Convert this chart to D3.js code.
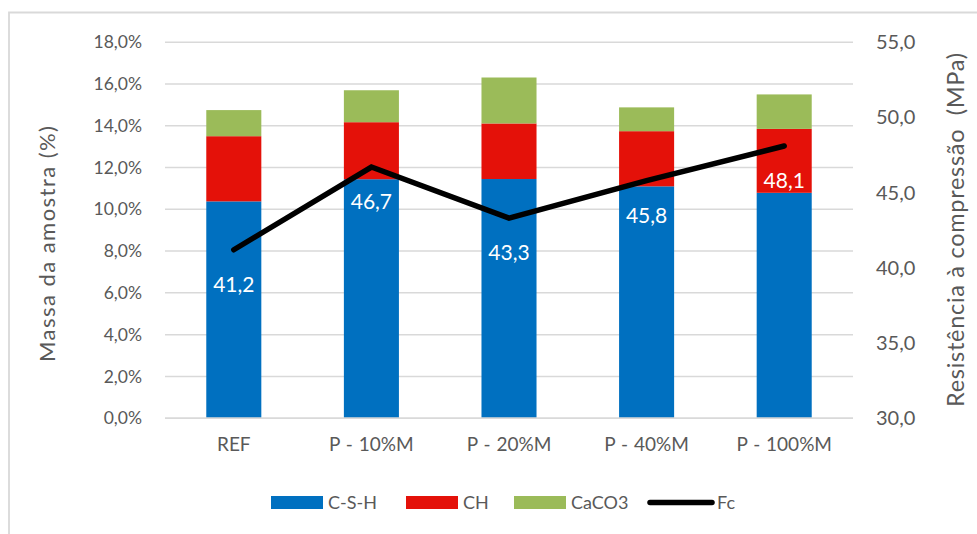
<!DOCTYPE html>
<html>
<head>
<meta charset="utf-8">
<script src="https://cdn.jsdelivr.net/npm/d3@7"></script>
<style>
  html, body { margin: 0; padding: 0; background: #fff; }
  svg text { font-family: Lato, "Open Sans", sans-serif; }
</style>
</head>
<body>
<svg id="chart" width="977" height="534"></svg>
<script>
// Samples and measured phases (% of sample mass) plus compressive strength (MPa)
const categories = ["REF", "P - 10%M", "P - 20%M", "P - 40%M", "P - 100%M"];
const csh   = [10.38, 11.44, 11.45, 11.10, 10.79];
const ch    = [3.12, 2.73, 2.66, 2.64, 3.06];
const caco3 = [1.25, 1.53, 2.20, 1.14, 1.65];
const fc    = [41.2, 46.7, 43.3, 45.8, 48.1];
const seriesNames = ["C-S-H", "CH", "CaCO3"];
const leftTicks = [0, 2, 4, 6, 8, 10, 12, 14, 16, 18];
const rightTicks = [30, 35, 40, 45, 50, 55];

const colors = { "C-S-H": "#0070C0", "CH": "#E41109", "CaCO3": "#9BBB59" };
const textColor = "#595959";
const gridColor = "#D9D9D9";

const svg = d3.select("#chart");
const margin = { left: 165, right: 124 };
const W = 977;
const plotW = W - margin.left - margin.right;
const y0 = 418.2, yTop = 42.2;

const x = d3.scaleBand().domain(categories).range([margin.left, margin.left + plotW]).paddingInner(0.6).paddingOuter(0.3);
const yL = d3.scaleLinear().domain([0, 18]).range([y0, yTop]);
const yR = d3.scaleLinear().domain([30, 55]).range([y0, yTop]);

// chart frame (top and left edges)
svg.append("path")
  .attr("d", `M9,534 V12.5 H977`)
  .attr("fill", "none").attr("stroke", gridColor).attr("stroke-width", 1.8);

// gridlines
svg.append("g").selectAll("line").data(leftTicks.slice(1)).join("line")
  .attr("x1", margin.left).attr("x2", margin.left + plotW)
  .attr("y1", d => yL(d)).attr("y2", d => yL(d))
  .attr("stroke", gridColor).attr("stroke-width", 1.5);

// stacked bars
const rows = categories.map((c, i) => ({ cat: c, "C-S-H": csh[i], "CH": ch[i], "CaCO3": caco3[i] }));
const stack = d3.stack().keys(seriesNames)(rows);
svg.append("g").selectAll("g").data(stack).join("g")
  .attr("fill", d => colors[d.key])
  .selectAll("rect").data(d => d).join("rect")
  .attr("x", d => x(d.data.cat))
  .attr("width", x.bandwidth())
  .attr("y", d => yL(d[1]))
  .attr("height", d => yL(d[0]) - yL(d[1]));

// baseline axis
svg.append("line")
  .attr("x1", margin.left).attr("x2", margin.left + plotW)
  .attr("y1", y0).attr("y2", y0)
  .attr("stroke", gridColor).attr("stroke-width", 1.8);

// left axis labels
const fmtPct = d => d.toFixed(1).replace(".", ",") + "%";
const leftAxis = d3.axisLeft(yL).tickValues(leftTicks).tickFormat(fmtPct).tickSize(0).tickPadding(0);
const gL = svg.append("g").attr("transform", "translate(142,0)").call(leftAxis);
gL.select(".domain").remove();
gL.selectAll("text").attr("fill", textColor).attr("font-size", 17.5).attr("font-family", "Lato, sans-serif");

// right axis labels
const fmtNum = d => d.toFixed(1).replace(".", ",");
const rightAxis = d3.axisRight(yR).tickValues(rightTicks).tickFormat(fmtNum).tickSize(0).tickPadding(0);
const gR = svg.append("g").attr("transform", "translate(876,0)").call(rightAxis);
gR.select(".domain").remove();
gR.selectAll("text").attr("fill", textColor).attr("font-size", 20).attr("font-family", "Lato, sans-serif");

// category labels
const bottomAxis = d3.axisBottom(x).tickSize(0).tickPadding(0);
const gB = svg.append("g").attr("transform", "translate(0,437)").call(bottomAxis);
gB.select(".domain").remove();
gB.selectAll("text").attr("fill", textColor).attr("font-size", 19).attr("font-family", "Lato, sans-serif")
  .attr("word-spacing", 1);

// axis titles
svg.append("text")
  .attr("transform", "translate(55,244) rotate(-90)")
  .attr("text-anchor", "middle").attr("fill", textColor).attr("font-size", 22)
  .attr("textLength", 236).attr("lengthAdjust", "spacing")
  .text("Massa da amostra (%)");
svg.append("text")
  .attr("transform", "translate(964,230) rotate(-90)")
  .attr("text-anchor", "middle").attr("fill", textColor).attr("font-size", 23.5)
  .attr("textLength", 354).attr("lengthAdjust", "spacing")
  .style("white-space", "pre")
  .text("Resistência à compressão  (MPa)");

// compressive strength line
const cx = c => x(c) + x.bandwidth() / 2;
const line = d3.line().x((d, i) => cx(categories[i])).y(d => yR(d));
svg.append("path").datum(fc)
  .attr("d", line).attr("fill", "none")
  .attr("stroke", "#000").attr("stroke-width", 5.5)
  .attr("stroke-linecap", "round").attr("stroke-linejoin", "miter");

// value labels under each point
svg.append("g").selectAll("text").data(fc).join("text")
  .attr("x", (d, i) => cx(categories[i]))
  .attr("y", d => yR(d) + 42)
  .attr("text-anchor", "middle").attr("fill", "#fff").attr("font-size", 21)
  .text(d => d.toFixed(1).replace(".", ","));

// legend
const legendItems = [
  { name: "C-S-H", x: 271, type: "rect" },
  { name: "CH", x: 406, type: "rect" },
  { name: "CaCO3", x: 514, type: "rect" },
  { name: "Fc", x: 650, type: "line" }
];
const lg = svg.append("g");
legendItems.forEach(it => {
  if (it.type === "rect") {
    lg.append("rect").attr("x", it.x).attr("y", 496).attr("width", 52).attr("height", 13)
      .attr("fill", colors[it.name]);
  } else {
    lg.append("line").attr("x1", it.x).attr("x2", it.x + 62).attr("y1", 502.5).attr("y2", 502.5)
      .attr("stroke", "#000").attr("stroke-width", 5.5).attr("stroke-linecap", "round");
  }
  lg.append("text").attr("x", it.type === "rect" ? it.x + 57 : it.x + 67).attr("y", 509)
    .attr("fill", textColor).attr("font-size", 18).text(it.name);
});
</script>
</body>
</html>
